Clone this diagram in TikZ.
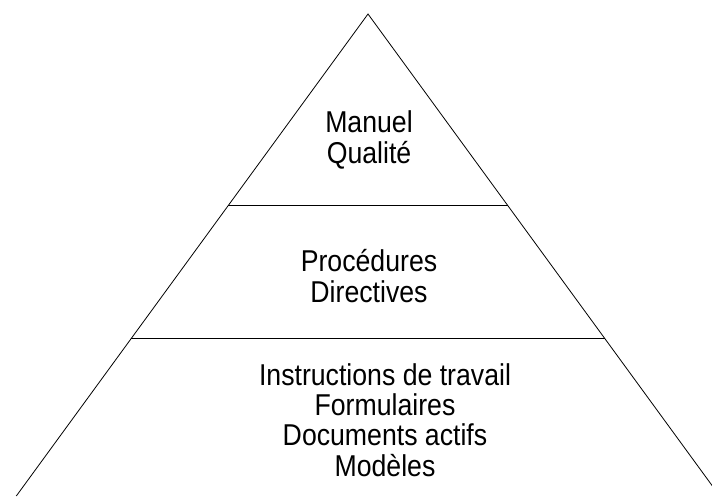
\documentclass[tikz,border=0pt]{standalone}
\usepackage{fontspec}
\setmainfont{Liberation Sans}
\usepackage{tikz}
\usetikzlibrary{calc, positioning}
\newcommand{\tiertext}[1]{\scalebox{1}[1.13]{\begin{tabular}{@{}c@{}}#1\end{tabular}}}

\begin{document}
\begin{tikzpicture}[x=0.75pt, y=-0.75pt,
    tier/.style={inner sep=0pt, font=\fontsize{20}{18.6}\selectfont},
    edge/.style={line width=0.6pt, black}]
                  \useasboundingbox (0,0) rectangle (712,496);
                  \clip (0,0) rectangle (712,496);
                  \coordinate (Top) at (368, 14);
                  \coordinate (BaseL) at (16.3, 496);
                  \coordinate (BaseR) at (719.7, 496);
                  \coordinate (L1) at ($(Top)!0.3977!(BaseL)$);
                  \coordinate (R1) at ($(Top)!0.3977!(BaseR)$);
                  \coordinate (L2) at ($(Top)!0.674!(BaseL)$);
                  \coordinate (R2) at ($(Top)!0.674!(BaseR)$);
                  \draw[edge] (BaseL)--(Top)--(BaseR);
                  \draw[edge] (L1)--(R1);
                  \draw[edge] (L2)--(R2);
                  \node[tier] (manuel) at (369, 141){\tiertext{Manuel\\Qualité}};
                  \node[tier] (proc) at (369, 280){\tiertext{Procédures\\Directives}};
                  \node[tier] (instr) at (385, 424){\tiertext{Instructions de travail\\Formulaires\\Documents actifs\\Modèles}};
               \end{tikzpicture}
\end{document}
